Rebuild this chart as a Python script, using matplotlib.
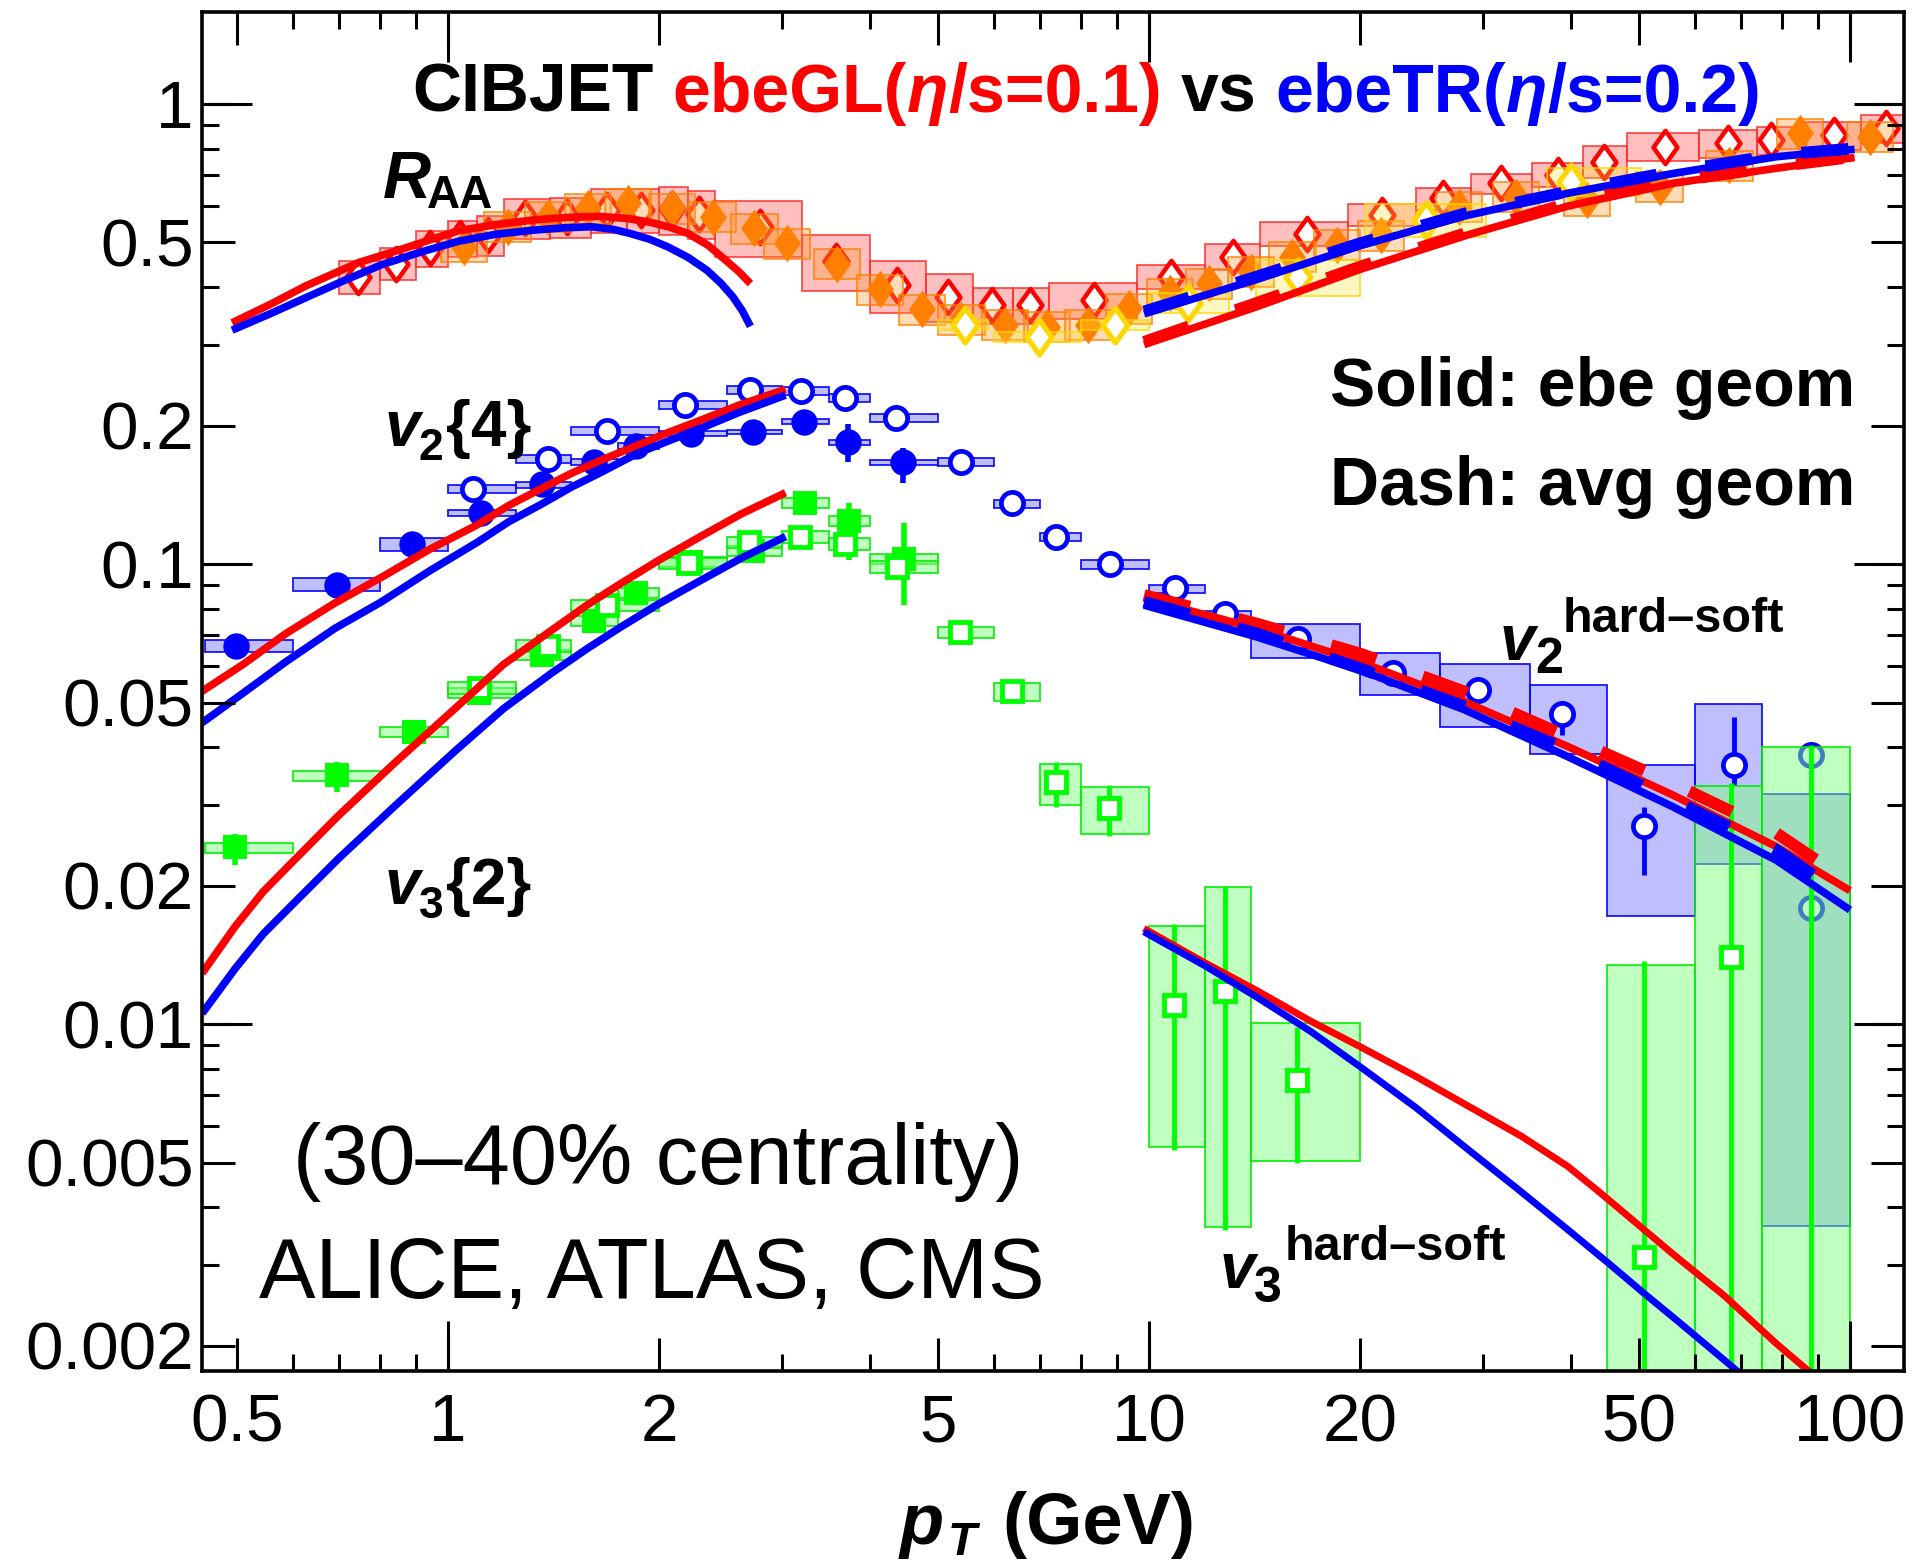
import numpy as np
import matplotlib
matplotlib.use("Agg")
import matplotlib.pyplot as plt
import matplotlib.transforms as mtransforms
from matplotlib.patches import Rectangle
from matplotlib.path import Path
from matplotlib.ticker import FixedLocator, FixedFormatter, NullFormatter

plt.rcParams['font.family'] = ['Liberation Sans', 'DejaVu Sans']

W, H = 1916, 1566

# ---------------- R_AA data ----------------
# red open diamonds (bins drawn as boxes)
raa_alice_pt = [0.745, 0.842, 0.944, 1.039, 1.142, 1.287, 1.478, 1.687, 1.888, 2.09, 2.281, 2.789,
                3.58, 4.375, 5.17, 5.965, 6.765, 8.356, 10.74, 13.16, 16.78, 21.53, 26.3, 31.8,
                38.3, 44.5, 54.4, 66.9, 77.2, 94.8, 112.4]
raa_alice_val = [0.421, 0.450, 0.486, 0.5105, 0.519, 0.564, 0.569, 0.588, 0.588, 0.590, 0.578, 0.541,
                 0.455, 0.404, 0.381, 0.366, 0.366, 0.375, 0.421, 0.466, 0.523, 0.574, 0.624, 0.672,
                 0.701, 0.749, 0.808, 0.821, 0.835, 0.856, 0.885]
raa_alice_edges = [0.7, 0.8, 0.9, 1.0, 1.1, 1.2, 1.4, 1.6, 1.8, 2.0, 2.2, 2.4, 3.2, 4.0, 4.8, 5.6,
                   6.4, 7.2, 9.6, 12.0, 14.4, 19.2, 24.0, 28.8, 35.2, 41.6, 48.0, 60.8, 73.6, 86.4,
                   103.6, 120.0]
raa_alice_sys = [0.08, 0.08, 0.09, 0.09, 0.10, 0.10, 0.10, 0.11, 0.11, 0.12, 0.12, 0.14, 0.14, 0.13,
                 0.12, 0.09, 0.09, 0.09, 0.06, 0.065, 0.06, 0.055, 0.055, 0.05, 0.06, 0.08, 0.07,
                 0.07, 0.07, 0.07, 0.07]

# orange filled diamonds
raa_cms_pt = [1.053, 1.216, 1.388, 1.584, 1.807, 2.088, 2.384, 2.736, 3.045, 3.585, 4.134, 4.74,
              5.4, 6.23, 7.145, 8.18, 9.37, 10.72, 12.19, 13.98, 16.02, 18.52, 21.43, 27.7, 33.4,
              42.1, 53.5, 67.3, 84.8, 106.8]
raa_cms_val = [0.49, 0.541, 0.569, 0.593, 0.608, 0.593, 0.569, 0.537, 0.498, 0.450, 0.396, 0.358,
               0.340, 0.331, 0.328, 0.331, 0.360, 0.388, 0.408, 0.432, 0.466, 0.494, 0.519, 0.598,
               0.629, 0.618, 0.661, 0.737, 0.863, 0.849]
raa_cms_sys = 0.075
cms_hw = 0.033  # half width of the boxes, decades

# gold open diamonds
raa_atlas_pt = [5.465, 6.97, 8.94, 11.38, 16.3, 24.8, 40.0]
raa_atlas_val = [0.331, 0.312, 0.331, 0.369, 0.421, 0.560, 0.678]
raa_atlas_lo = [5.0, 6.0, 8.0, 10.0, 14.2, 20.3, 36.9]
raa_atlas_hi = [5.9, 8.0, 10.0, 13.0, 20.0, 30.2, 50.4]
raa_atlas_sys = [0.025, 0.025, 0.025, 0.05, 0.09, 0.08, 0.07]

# ---------------- v2 data ----------------
v2f_pt = [0.498, 0.695, 0.888, 1.114, 1.362, 1.614, 1.853, 2.224, 2.72, 3.22, 3.724, 4.453]
v2f_val = [0.0664, 0.0902, 0.1105, 0.1293, 0.1489, 0.1669, 0.1806, 0.192, 0.1937, 0.2039, 0.1838, 0.1663]
v2f_edges = [0.45, 0.6, 0.8, 1.0, 1.25, 1.5, 1.75, 2.0, 2.5, 3.0, 3.5, 4.0, 5.0]
v2f_sys = [0.03, 0.033, 0.033, 0.015, 0.015, 0.015, 0.015, 0.012, 0.012, 0.012, 0.012, 0.012]
v2f_err_lo = [0.0664, 0.0902, 0.1105, 0.1293, 0.1489, 0.1669, 0.1806, 0.192, 0.1937, 0.2039, 0.167, 0.150]
v2f_err_hi = [0.0664, 0.0902, 0.1105, 0.1293, 0.1489, 0.1669, 0.1806, 0.192, 0.1937, 0.2039, 0.202, 0.179]

v2o_pt = [1.086, 1.388, 1.683, 2.177, 2.692, 3.185, 3.685, 4.355, 5.39, 6.37, 7.36, 8.80, 10.89,
          12.83, 16.3, 22.28, 29.5, 38.8, 50.9, 68.2, 88.1]
v2o_val = [0.1455, 0.1692, 0.1944, 0.2218, 0.2391, 0.2377, 0.2299, 0.208, 0.1663, 0.1354, 0.1143,
           0.0998, 0.0886, 0.0778, 0.0688, 0.058, 0.0532, 0.0471, 0.0269, 0.0366, 0.0179]
v2o_lo = [1.0, 1.25, 1.5, 2.0, 2.5, 3.0, 3.5, 4.0, 5.0, 6.0, 7.0, 8.0, 10, 12, 14, 20, 26, 35, 45, 60, 75]
v2o_hi = [1.25, 1.5, 2.0, 2.5, 3.0, 3.5, 4.0, 5.0, 6.0, 7.0, 8.0, 10, 12, 14, 20, 26, 35, 45, 60, 75, 100]
v2o_box_lo = [0.1426, 0.1658, 0.1905, 0.2174, 0.2343, 0.2329, 0.2253, 0.2038, 0.163, 0.1327, 0.112,
              0.0976, 0.0865, 0.0752, 0.0626, 0.0519, 0.0442, 0.0386, 0.0172, 0.0223, 0.00363]
v2o_box_hi = [0.1484, 0.1726, 0.1983, 0.2262, 0.2439, 0.2425, 0.2345, 0.2122, 0.1696, 0.1381, 0.1166,
              0.102, 0.0901, 0.0792, 0.0740, 0.0640, 0.0606, 0.0545, 0.0366, 0.0497, 0.0316]
v2o_err_lo = [0.1455, 0.1692, 0.1944, 0.2218, 0.2391, 0.2377, 0.2299, 0.208, 0.1663, 0.1354, 0.1143,
              0.0998, 0.0886, 0.0778, 0.0688, 0.058, 0.0505, 0.0425, 0.0211, 0.0331, 0.0179]
v2o_err_hi = [0.1455, 0.1692, 0.1944, 0.2218, 0.2391, 0.2377, 0.2299, 0.208, 0.1663, 0.1354, 0.1143,
              0.0998, 0.0886, 0.0778, 0.0688, 0.058, 0.0560, 0.0505, 0.0297, 0.0465, 0.0179]
v2x_pt = [88.1]
v2x_val = [0.0384]

# ---------------- v3 data ----------------
v3f_pt = [0.497, 0.695, 0.894, 1.107, 1.362, 1.614, 1.853, 2.224, 2.72, 3.232, 3.73, 4.477]
v3f_val = [0.0242, 0.0347, 0.0432, 0.0524, 0.0635, 0.0751, 0.0864, 0.1012, 0.1066, 0.1359, 0.124, 0.1026]
v3f_edges = [0.45, 0.6, 0.8, 1.0, 1.25, 1.5, 1.75, 2.0, 2.5, 3.0, 3.5, 4.0, 5.0]
v3f_sys = 0.025
v3f_err_lo = [0.0222, 0.0319, 0.0432, 0.0524, 0.0635, 0.0751, 0.0864, 0.1012, 0.1066, 0.1359, 0.1022, 0.0813]
v3f_err_hi = [0.0259, 0.0372, 0.0432, 0.0524, 0.0635, 0.0751, 0.0864, 0.1012, 0.1066, 0.1359, 0.1355, 0.1228]

v3o_pt = [1.107, 1.388, 1.687, 2.196, 2.685, 3.178, 3.685, 4.375, 5.375, 6.37, 7.37, 8.77, 10.85,
          12.83, 16.25, 50.8, 67.6, 88.1]
v3o_val = [0.0537, 0.0664, 0.0813, 0.1003, 0.1114, 0.1143, 0.1105, 0.0984, 0.0710, 0.0530, 0.0336,
           0.0295, 0.0110, 0.0118, 0.00755, 0.00312, 0.0140, np.nan]
v3o_lo = [1.0, 1.25, 1.5, 2.0, 2.5, 3.0, 3.5, 4.0, 5.0, 6.0, 7.0, 8.0, 10, 12, 14, 45, 60, 75]
v3o_hi = [1.25, 1.5, 2.0, 2.5, 3.0, 3.5, 4.0, 5.0, 6.0, 7.0, 8.0, 10, 12, 14, 20, 60, 75, 100]
v3o_box_lo = [0.0521, 0.0644, 0.0789, 0.0973, 0.1081, 0.1109, 0.1072, 0.0954, 0.0689, 0.0505, 0.0300,
              0.0259, 0.00541, 0.00362, 0.00503, 0.0012, 0.0012, 0.0012]
v3o_box_hi = [0.0553, 0.0684, 0.0837, 0.1033, 0.1147, 0.1177, 0.1138, 0.1014, 0.0731, 0.0551, 0.0367,
              0.0328, 0.01634, 0.01984, 0.01004, 0.01345, 0.0329, 0.0400]
v3o_err_lo = [0.0537, 0.0664, 0.0813, 0.1003, 0.1114, 0.1143, 0.1105, 0.0984, 0.0710, 0.0530, 0.0297,
              0.0256, 0.00533, 0.00357, 0.00498, 0.0012, 0.0012, 0.0012]
v3o_err_hi = [0.0537, 0.0664, 0.0813, 0.1003, 0.1114, 0.1143, 0.1105, 0.0984, 0.0710, 0.0530, 0.0371,
              0.0331, 0.0165, 0.0200, 0.00984, 0.0137, 0.0335, 0.0405]

# ---------------- model curves ----------------
raa_gl_lo_pt = [0.492, 0.56, 0.626, 0.745, 0.842, 0.94, 1.034, 1.17, 1.326, 1.48, 1.641, 1.80,
                1.935, 2.07, 2.20, 2.35, 2.491, 2.60, 2.70]
raa_gl_lo = [0.3345, 0.368, 0.402, 0.452, 0.479, 0.506, 0.530, 0.547, 0.560, 0.567, 0.570, 0.564,
             0.554, 0.540, 0.523, 0.493, 0.457, 0.432, 0.407]
raa_tr_lo_pt = [0.492, 0.56, 0.626, 0.71, 0.803, 0.92, 1.034, 1.17, 1.326, 1.46, 1.60, 1.72, 1.82,
                1.94, 2.06, 2.20, 2.34, 2.45, 2.55, 2.63, 2.70]
raa_tr_lo = [0.3224, 0.351, 0.379, 0.413, 0.447, 0.478, 0.503, 0.521, 0.532, 0.538, 0.541, 0.534,
             0.523, 0.508, 0.489, 0.464, 0.4353, 0.408, 0.3806, 0.355, 0.3287]

raa_hi_pt = [9.84, 14.21, 20.0, 28.2, 39.6, 55.8, 78.5, 101.5]
raa_gl_hi = [0.300, 0.362, 0.437, 0.517, 0.600, 0.672, 0.725, 0.765]
raa_tr_hi = [0.350, 0.415, 0.492, 0.571, 0.640, 0.706, 0.768, 0.797]
raa_gl_hi_avg = [0.304, 0.369, 0.443, 0.523, 0.608, 0.678, 0.731, 0.768]
raa_tr_hi_avg = [0.354, 0.421, 0.498, 0.578, 0.645, 0.713, 0.775, 0.801]

v2_lo_pt = [0.445, 0.51, 0.587, 0.69, 0.803, 0.94, 1.10, 1.22, 1.36, 1.50, 1.65, 1.86, 2.05, 2.29,
            2.60, 3.03]
v2_gl_lo = [0.0528, 0.0605, 0.0706, 0.0823, 0.0935, 0.1075, 0.1216, 0.1340, 0.146, 0.1575, 0.168,
            0.181, 0.1925, 0.2053, 0.2215, 0.2398]
v2_tr_lo = [0.0451, 0.0524, 0.0613, 0.0725, 0.0827, 0.0965, 0.1114, 0.1235, 0.135, 0.147, 0.158,
            0.1738, 0.1845, 0.197, 0.2135, 0.2329]

v3_lo_pt = [0.446, 0.497, 0.545, 0.598, 0.698, 0.840, 1.023, 1.20, 1.40, 1.58, 1.76, 2.00, 2.29,
            2.62, 3.03]
v3_gl_lo = [0.0129, 0.0163, 0.0194, 0.0224, 0.0284, 0.0370, 0.0485, 0.0605, 0.0715, 0.0815, 0.0905,
            0.1020, 0.1147, 0.1285, 0.1429]
v3_tr_lo = [0.01055, 0.0132, 0.0157, 0.0181, 0.0229, 0.0298, 0.0392, 0.0485, 0.0577, 0.0655, 0.0728,
            0.0820, 0.0920, 0.1030, 0.1147]

v2hs_pt = [9.84, 14.21, 20.0, 28.2, 39.6, 55.8, 78.5, 100.0]
v2hs_gl = [0.0842, 0.0725, 0.0613, 0.0502, 0.0401, 0.0315, 0.0243, 0.0195]
v2hs_tr = [0.0814, 0.0695, 0.0588, 0.0482, 0.0381, 0.0297, 0.0227, 0.0177]
v2hs_gl_avg = [0.0856, 0.0743, 0.0639, 0.0528, 0.0421, 0.0334, 0.0260, 0.0203]
v2hs_tr_avg = [0.0828, 0.0707, 0.0593, 0.0490, 0.0394, 0.0307, 0.0239, 0.0186]

v3hs_gl_pt = [9.93, 12.0, 14.21, 17.0, 20.0, 24.0, 28.2, 34.0, 39.6, 44.0, 50.0, 55.8, 66.3, 78.5, 87.7]
v3hs_gl = [0.0160, 0.0136, 0.01185, 0.01015, 0.00893, 0.00770, 0.00670, 0.00570, 0.00490, 0.00430,
           0.00365, 0.00317, 0.00256, 0.00202, 0.00175]
v3hs_tr_pt = [9.93, 12.0, 14.21, 17.0, 20.0, 24.0, 28.2, 33.5, 39.6, 45.0, 50.8, 57.0, 63.0, 69.7]
v3hs_tr = [0.01574, 0.0134, 0.01147, 0.00964, 0.00808, 0.00659, 0.00541, 0.00439, 0.00357, 0.00304,
           0.0026, 0.00225, 0.00198, 0.00174]

xtick_vals = [0.5, 1, 2, 5, 10, 20, 50, 100]
xtick_labels = ['0.5', '1', '2', '5', '10', '20', '50', '100']
ytick_vals = [0.002, 0.005, 0.01, 0.02, 0.05, 0.1, 0.2, 0.5, 1]
ytick_labels = ['0.002', '0.005', '0.01', '0.02', '0.05', '0.1', '0.2', '0.5', '1']

# ---------------- figure ----------------
RED, BLUE, GREEN, ORANGE, GOLD = '#ff0000', '#0000ff', '#00ff00', '#ff8000', '#ffd700'

fig = plt.figure(figsize=(W / 100, H / 100), dpi=100)
ax = fig.add_axes([202 / W, 1 - 1371 / H, (1904 - 202) / W, (1371 - 12) / H])
ax.set_xscale('log')
ax.set_yscale('log')
ax.set_xlim(0.4457, 119.4)
ax.set_ylim(0.001761, 1.585)

diamond = Path([(0, 1), (0.72, 0), (0, -1), (-0.72, 0), (0, 1)],
               [Path.MOVETO, Path.LINETO, Path.LINETO, Path.LINETO, Path.CLOSEPOLY])


def add_boxes(xlo, xhi, ylo, yhi, fc, ec, z):
    for a, b, c, d in zip(xlo, xhi, ylo, yhi):
        ax.add_patch(Rectangle((a, c), b - a, d - c, facecolor=fc, edgecolor=ec,
                               lw=1.3, zorder=z))


def rel_box(val, sys):
    val = np.asarray(val, float)
    sys = np.broadcast_to(np.asarray(sys, float), val.shape)
    return val * (1 - sys), val * (1 + sys)


# R_AA boxes and points
lo, hi = rel_box(raa_alice_val, raa_alice_sys)
add_boxes(raa_alice_edges[:-1], raa_alice_edges[1:], lo, hi, (1, 0.5, 0.5, 0.5), (1, 0.15, 0.15, 0.8), 2)
ax.plot(raa_alice_pt, raa_alice_val, ls='none', marker=diamond, ms=24, mfc='white', mec=RED,
        mew=3.2, zorder=3)

pt = np.asarray(raa_cms_pt)
lo, hi = rel_box(raa_cms_val, raa_cms_sys)
add_boxes(pt * 10 ** -cms_hw, pt * 10 ** cms_hw, lo, hi, (1, 0.6, 0.2, 0.35), (1, 0.5, 0, 0.8), 4)
ax.plot(raa_cms_pt, raa_cms_val, ls='none', marker=diamond, ms=27, mfc=ORANGE, mec=ORANGE,
        mew=0, zorder=5)

lo, hi = rel_box(raa_atlas_val, raa_atlas_sys)
add_boxes(raa_atlas_lo, raa_atlas_hi, lo, hi, (1, 0.9, 0.2, 0.3), (1, 0.85, 0, 0.8), 6)
ax.plot(raa_atlas_pt, raa_atlas_val, ls='none', marker=diamond, ms=25, mfc='white', mec=GOLD,
        mew=3.8, zorder=7)

# v2
lo, hi = rel_box(v2f_val, v2f_sys)
add_boxes(v2f_edges[:-1], v2f_edges[1:], lo, hi, (0.5, 0.5, 1, 0.5), (0, 0, 1, 0.9), 8)
add_boxes(v2o_lo, v2o_hi, v2o_box_lo, v2o_box_hi, (0.5, 0.5, 1, 0.5), (0, 0, 1, 0.9), 8)
ax.vlines(v2f_pt, v2f_err_lo, v2f_err_hi, colors=BLUE, lw=4, zorder=9)
ax.vlines(v2o_pt, v2o_err_lo, v2o_err_hi, colors=BLUE, lw=3.5, zorder=9)
ax.plot(v2f_pt, v2f_val, ls='none', marker='o', ms=19, mfc=BLUE, mec=BLUE, mew=0, zorder=10)
ax.plot(v2o_pt, v2o_val, ls='none', marker='o', ms=16, mfc='white', mec=BLUE, mew=3.4, zorder=10)
ax.plot(v2x_pt, v2x_val, ls='none', marker='o', ms=16, mfc='white', mec=BLUE, mew=3.4, zorder=10)

# v3
lo, hi = rel_box(v3f_val, v3f_sys)
add_boxes(v3f_edges[:-1], v3f_edges[1:], lo, hi, (0.5, 1, 0.5, 0.5), (0, 0.93, 0, 0.9), 11)
add_boxes(v3o_lo, v3o_hi, v3o_box_lo, v3o_box_hi, (0.5, 1, 0.5, 0.5), (0, 0.93, 0, 0.9), 11)
ax.vlines(v3f_pt, v3f_err_lo, v3f_err_hi, colors=GREEN, lw=4, zorder=12)
ax.vlines(v3o_pt, v3o_err_lo, v3o_err_hi, colors=GREEN, lw=3.5, zorder=12)
ax.plot(v3f_pt, v3f_val, ls='none', marker='s', ms=17.5, mfc=GREEN, mec=GREEN, mew=0, zorder=13)
ax.plot(v3o_pt, v3o_val, ls='none', marker='s', ms=14, mfc='white', mec=GREEN, mew=3.5, zorder=13)

# model curves
solid = dict(lw=5.5, solid_capstyle='butt', solid_joinstyle='round', zorder=20)
dash = dict(lw=8.5, ls=(0, (4.0, 4.2)), dash_capstyle='butt', zorder=21)
ax.plot(raa_gl_lo_pt, raa_gl_lo, color=RED, **solid)
ax.plot(raa_tr_lo_pt, raa_tr_lo, color=BLUE, **solid)
ax.plot(raa_hi_pt, raa_gl_hi, color=RED, **solid)
ax.plot(raa_hi_pt, raa_tr_hi, color=BLUE, **solid)
ax.plot(raa_hi_pt, raa_gl_hi_avg, color=RED, **dash)
ax.plot(raa_hi_pt, raa_tr_hi_avg, color=BLUE, **dash)
ax.plot(v2_lo_pt, v2_gl_lo, color=RED, **solid)
ax.plot(v2_lo_pt, v2_tr_lo, color=BLUE, **solid)
ax.plot(v3_lo_pt, v3_gl_lo, color=RED, **solid)
ax.plot(v3_lo_pt, v3_tr_lo, color=BLUE, **solid)
ax.plot(v2hs_pt, v2hs_gl, color=RED, **solid)
ax.plot(v2hs_pt, v2hs_tr, color=BLUE, **solid)
ax.plot(v2hs_pt, v2hs_gl_avg, color=RED, **dash)
ax.plot(v2hs_pt, v2hs_tr_avg, color=BLUE, **dash)
ax.plot(v3hs_gl_pt, v3hs_gl, color=RED, lw=5, solid_joinstyle='round', zorder=20)
ax.plot(v3hs_tr_pt, v3hs_tr, color=BLUE, lw=5, solid_joinstyle='round', zorder=20)

# axes, ticks
for s in ax.spines.values():
    s.set_linewidth(2.6)
    s.set_zorder(40)
ax.xaxis.set_zorder(40)
ax.yaxis.set_zorder(40)
ax.xaxis.set_major_locator(FixedLocator(xtick_vals))
ax.xaxis.set_major_formatter(FixedFormatter(xtick_labels))
ax.xaxis.set_minor_locator(FixedLocator([m * d for d in (0.1, 1, 10) for m in range(3, 10)
                                         if m != 5 and 0.45 < m * d < 119]))
ax.xaxis.set_minor_formatter(NullFormatter())
ax.yaxis.set_major_locator(FixedLocator(ytick_vals))
ax.yaxis.set_major_formatter(FixedFormatter(ytick_labels))
ax.yaxis.set_minor_locator(FixedLocator([m * d for d in (0.001, 0.01, 0.1) for m in range(3, 10)
                                         if m != 5]))
ax.yaxis.set_minor_formatter(NullFormatter())
ax.tick_params(which='both', direction='in', top=True, right=True, width=2.2, color='black')
ax.tick_params(which='major', length=24, labelsize=48.5)
ax.tick_params(which='minor', length=12)
ax.tick_params(axis='x', which='major', pad=16)
ax.tick_params(axis='y', which='major', pad=6)

# longer ticks at the decades
bx = mtransforms.blended_transform_factory(ax.transData, ax.transAxes)
by = mtransforms.blended_transform_factory(ax.transAxes, ax.transData)
Lx, Ly = 50 / 1359, 50 / 1702
for xv in (1, 10, 100):
    for a, b in ((0, Lx), (1 - Lx, 1)):
        ax.plot([xv, xv], [a, b], transform=bx, color='k', lw=2.2, clip_on=False,
                solid_capstyle='butt', zorder=41)
for yv in (0.01, 0.1, 1):
    for a, b in ((0, Ly), (1 - Ly, 1)):
        ax.plot([a, b], [yv, yv], transform=by, color='k', lw=2.2, clip_on=False,
                solid_capstyle='butt', zorder=41)

# ---------------- text ----------------
renderer = fig.canvas.get_renderer()


def ftext(x, y, s, **kw):
    kw.setdefault('va', 'baseline')
    return fig.text(x / W, 1 - y / H, s, zorder=50, **kw)


def text_w(t):
    return t.get_window_extent(renderer=renderer).width


def space_w(size, **kw):
    a = fig.text(0, 0, 'a a', fontsize=size, **kw)
    b = fig.text(0, 0, 'aa', fontsize=size, **kw)
    w = text_w(a) - text_w(b)
    a.remove()
    b.remove()
    return w


title_parts = [('CIBJET', 'black', 'normal', True), ('ebeGL(', RED, 'normal', False),
               ('η', RED, 'italic', False), ('/s=0.1)', RED, 'normal', True),
               ('vs', 'black', 'normal', True), ('ebeTR(', BLUE, 'normal', False),
               ('η', BLUE, 'italic', False), ('/s=0.2)', BLUE, 'normal', False)]
tsize = 49
gap = space_w(tsize, fontweight='bold')
x = 412
for s, c, st, sp in title_parts:
    t = ftext(x, 112, s, color=c, fontsize=tsize, fontweight='bold', fontstyle=st)
    x += text_w(t) + (gap if sp else 0)

ftext(1855, 406, 'Solid: ebe geom', fontsize=49, fontweight='bold', ha='right')
ftext(1855, 505, 'Dash: avg geom', fontsize=49, fontweight='bold', ha='right')
ftext(293, 1184, '(30–40% centrality)', fontsize=61)
ftext(259, 1298, 'ALICE, ATLAS, CMS', fontsize=61)

bi = dict(fontweight='bold', fontstyle='italic')
ftext(383, 198, 'R', fontsize=48, **bi)
ftext(427, 208, 'AA', fontsize=33, fontweight='bold')
ftext(385, 446, 'v', fontsize=46, **bi)
ftext(419, 460, '2', fontsize=32, fontweight='bold')
ftext(446, 446, '{4}', fontsize=46, fontweight='bold')
ftext(385, 904, 'v', fontsize=46, **bi)
ftext(419, 918, '3', fontsize=32, fontweight='bold')
ftext(446, 904, '{2}', fontsize=46, fontweight='bold')
ftext(1500, 660, 'v', fontsize=46, **bi)
ftext(1535, 673, '2', fontsize=36, fontweight='bold')
ftext(1563, 632, 'hard–soft', fontsize=35, fontweight='bold')
ftext(1220, 1288, 'v', fontsize=46, **bi)
ftext(1254, 1302, '3', fontsize=36, fontweight='bold')
ftext(1285, 1260, 'hard–soft', fontsize=35, fontweight='bold')

ftext(900, 1544, 'p', fontsize=52, **bi)
ftext(948, 1555, 'T', fontsize=34, **bi)
ftext(1002, 1544, '(GeV)', fontsize=52, fontweight='bold')

fig.savefig('out.png', dpi=100)
